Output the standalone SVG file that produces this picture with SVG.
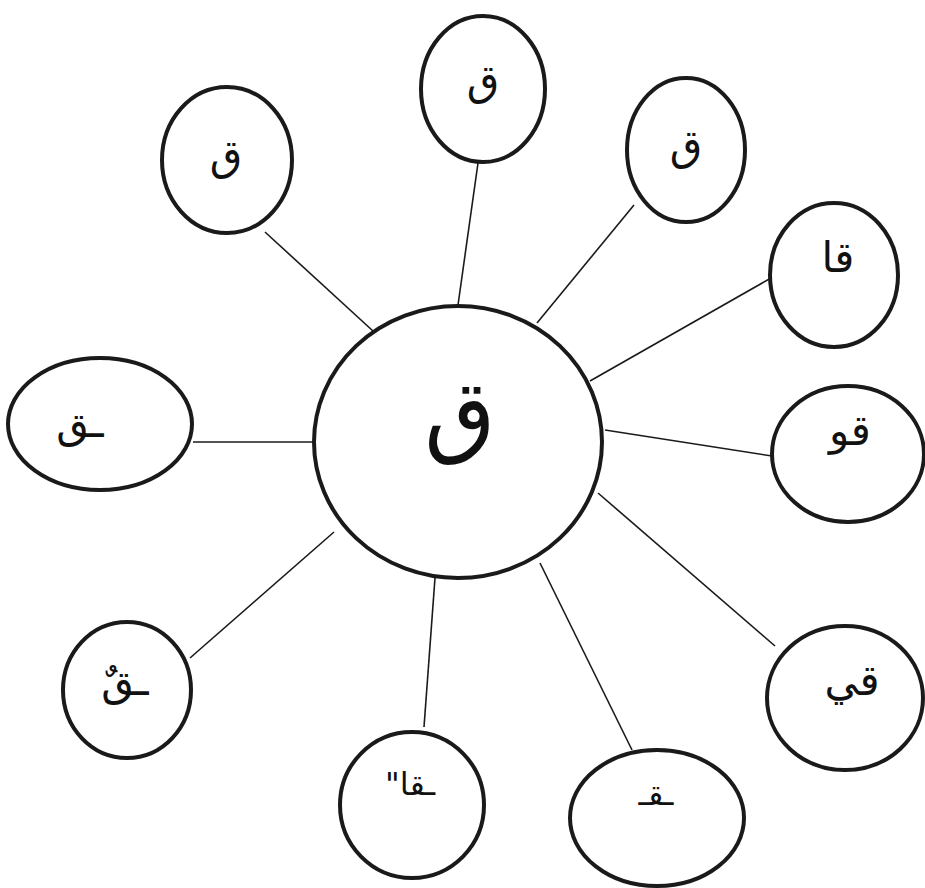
<svg xmlns="http://www.w3.org/2000/svg" width="925" height="888" viewBox="0 0 925 888">
<style>
.n{fill:#fff;stroke:#1a1a1a;stroke-width:4}
.c line{stroke:#1a1a1a;stroke-width:1.6}
.t{font-family:"DejaVu Sans",sans-serif;font-size:42px;fill:#111;text-anchor:middle;direction:rtl}
</style>
<rect width="925" height="888" fill="#fff"/>
<g class="c" id="connectors">
<line x1="265" y1="232" x2="385" y2="342"/>
<line x1="478" y1="163" x2="458" y2="305"/>
<line x1="634" y1="205" x2="537" y2="323"/>
<line x1="771" y1="278" x2="590" y2="381"/>
<line x1="605" y1="430" x2="772" y2="456"/>
<line x1="598" y1="493" x2="775" y2="646"/>
<line x1="540" y1="563" x2="632" y2="750"/>
<line x1="435" y1="578" x2="424" y2="727"/>
<line x1="334" y1="532" x2="190" y2="658"/>
<line x1="193" y1="442" x2="314" y2="442"/>
</g>
<g id="center"><ellipse class="n" cx="458" cy="442" rx="144" ry="136"/><text class="t" x="460" y="445" style="font-size:92px">ق</text></g>
<g id="n-topleft"><ellipse class="n" cx="227" cy="160" rx="65" ry="73"/><text class="t" x="226" y="170">ق</text></g>
<g id="n-top"><ellipse class="n" cx="483" cy="89" rx="62" ry="73"/><text class="t" x="483" y="95">ق</text></g>
<g id="n-topright"><ellipse class="n" cx="686" cy="150" rx="59" ry="72"/><text class="t" x="686" y="160">ق</text></g>
<g id="n-qa"><ellipse class="n" cx="834" cy="275" rx="64" ry="72"/><text class="t" x="838" y="272">قا</text></g>
<g id="n-qu"><ellipse class="n" cx="848" cy="454" rx="76" ry="68"/><text class="t" x="850" y="445">قو</text></g>
<g id="n-qi"><ellipse class="n" cx="845" cy="698" rx="78" ry="72"/><text class="t" x="852" y="695">قي</text></g>
<g id="n-mid"><ellipse class="n" cx="657" cy="818" rx="87" ry="68"/><text class="t" x="656" y="805" style="font-size:32px">ـقـ</text></g>
<g id="n-qa2"><ellipse class="n" cx="412" cy="805" rx="72" ry="73"/><text class="t" x="410" y="795" style="font-size:32px">ـقا"</text></g>
<g id="n-qun"><ellipse class="n" cx="127" cy="690" rx="64" ry="68"/><text class="t" x="125" y="695">ـقٌ</text></g>
<g id="n-left"><ellipse class="n" cx="100" cy="424" rx="92" ry="66"/><text class="t" x="80" y="437">ـق</text></g>
</svg>
